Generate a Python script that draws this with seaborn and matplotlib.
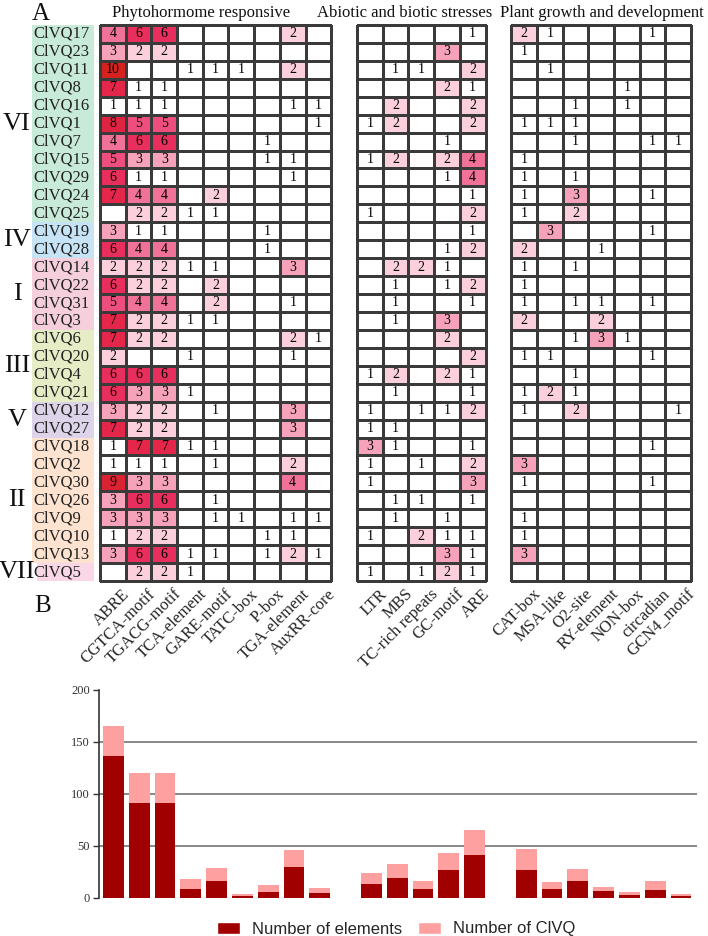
import numpy as np
import pandas as pd
import matplotlib
matplotlib.use("Agg")
import matplotlib.pyplot as plt
import seaborn as sns
from matplotlib.colors import ListedColormap
from matplotlib.patches import Rectangle, Patch
from matplotlib.transforms import ScaledTranslation

# ---------------- data ----------------
genes = ["ClVQ17", "ClVQ23", "ClVQ11", "ClVQ8", "ClVQ16", "ClVQ1", "ClVQ7", "ClVQ15",
         "ClVQ29", "ClVQ24", "ClVQ25", "ClVQ19", "ClVQ28", "ClVQ14", "ClVQ22", "ClVQ31",
         "ClVQ3", "ClVQ6", "ClVQ20", "ClVQ4", "ClVQ21", "ClVQ12", "ClVQ27", "ClVQ18",
         "ClVQ2", "ClVQ30", "ClVQ26", "ClVQ9", "ClVQ10", "ClVQ13", "ClVQ5"]
group_names = ["VI", "IV", "I", "III", "V", "II", "VII"]
group_sizes = [11, 2, 4, 4, 2, 7, 1]
group_colors = ["#c8ebd9", "#c6e4f5", "#f5cfdc", "#e5ecc6", "#ddd4ea", "#fde3d0", "#f9d7e7"]

phyto_names = ["ABRE", "CGTCA-motif", "TGACG-motif", "TCA-element", "GARE-motif",
               "TATC-box", "P-box", "TGA-element", "AuxRR-core"]
abiotic_names = ["LTR", "MBS", "TC-rich repeats", "GC-motif", "ARE"]
growth_names = ["CAT-box", "MSA-like", "O2-site", "RY-element", "NON-box", "circadian", "GCN4_motif"]

category_titles = ["Phytohormome responsive", "Abiotic and biotic stresses",
                   "Plant growth and development"]

phyto_counts = [
    [4, 6, 6, 0, 0, 0, 0, 2, 0], [3, 2, 2, 0, 0, 0, 0, 0, 0], [10, 0, 0, 1, 1, 1, 0, 2, 0],
    [7, 1, 1, 0, 0, 0, 0, 0, 0], [1, 1, 1, 0, 0, 0, 0, 1, 1], [8, 5, 5, 0, 0, 0, 0, 0, 1],
    [4, 6, 6, 0, 0, 0, 1, 0, 0], [5, 3, 3, 0, 0, 0, 1, 1, 0], [6, 1, 1, 0, 0, 0, 0, 1, 0],
    [7, 4, 4, 0, 2, 0, 0, 0, 0], [0, 2, 2, 1, 1, 0, 0, 0, 0], [3, 1, 1, 0, 0, 0, 1, 0, 0],
    [6, 4, 4, 0, 0, 0, 1, 0, 0], [2, 2, 2, 1, 1, 0, 0, 3, 0], [6, 2, 2, 0, 2, 0, 0, 0, 0],
    [5, 4, 4, 0, 2, 0, 0, 1, 0], [7, 2, 2, 1, 1, 0, 0, 0, 0], [7, 2, 2, 0, 0, 0, 0, 2, 1],
    [2, 0, 0, 1, 0, 0, 0, 1, 0], [6, 6, 6, 0, 0, 0, 0, 0, 0], [6, 3, 3, 1, 0, 0, 0, 0, 0],
    [3, 2, 2, 0, 1, 0, 0, 3, 0], [7, 2, 2, 0, 0, 0, 0, 3, 0], [1, 7, 7, 1, 1, 0, 0, 0, 0],
    [1, 1, 1, 0, 1, 0, 0, 2, 0], [9, 3, 3, 0, 0, 0, 0, 4, 0], [3, 6, 6, 0, 1, 0, 0, 0, 0],
    [3, 3, 3, 0, 1, 1, 0, 1, 1], [1, 2, 2, 0, 0, 0, 1, 1, 0], [3, 6, 6, 1, 1, 0, 1, 2, 1],
    [0, 2, 2, 1, 0, 0, 0, 0, 0],
]
abiotic_counts = [
    [0, 0, 0, 0, 1], [0, 0, 0, 3, 0], [0, 1, 1, 0, 2], [0, 0, 0, 2, 1], [0, 2, 0, 0, 2],
    [1, 2, 0, 0, 2], [0, 0, 0, 1, 0], [1, 2, 0, 2, 4], [0, 0, 0, 1, 4], [0, 0, 0, 0, 1],
    [1, 0, 0, 0, 2], [0, 0, 0, 0, 1], [0, 0, 0, 1, 2], [0, 2, 2, 1, 0], [0, 1, 0, 1, 2],
    [0, 1, 0, 0, 1], [0, 1, 0, 3, 0], [0, 0, 0, 2, 0], [0, 0, 0, 0, 2], [1, 2, 0, 2, 1],
    [0, 1, 0, 0, 1], [1, 0, 1, 1, 2], [1, 1, 0, 0, 0], [3, 1, 0, 0, 1], [1, 0, 1, 0, 2],
    [1, 0, 0, 0, 3], [0, 1, 1, 0, 1], [0, 1, 0, 1, 0], [1, 0, 2, 1, 1], [0, 0, 0, 3, 1],
    [1, 0, 1, 2, 1],
]
growth_counts = [
    [2, 1, 0, 0, 0, 1, 0], [1, 0, 0, 0, 0, 0, 0], [0, 1, 0, 0, 0, 0, 0], [0, 0, 0, 0, 1, 0, 0],
    [0, 0, 1, 0, 1, 0, 0], [1, 1, 1, 0, 0, 0, 0], [0, 0, 1, 0, 0, 1, 1], [1, 0, 0, 0, 0, 0, 0],
    [1, 0, 1, 0, 0, 0, 0], [1, 0, 3, 0, 0, 1, 0], [1, 0, 2, 0, 0, 0, 0], [0, 3, 0, 0, 0, 1, 0],
    [2, 0, 0, 1, 0, 0, 0], [1, 0, 1, 0, 0, 0, 0], [1, 0, 0, 0, 0, 0, 0], [1, 0, 1, 1, 0, 1, 0],
    [2, 0, 0, 2, 0, 0, 0], [0, 0, 1, 3, 1, 0, 0], [1, 1, 0, 0, 0, 1, 0], [0, 0, 1, 0, 0, 0, 0],
    [1, 2, 1, 0, 0, 0, 0], [1, 0, 2, 0, 0, 0, 1], [0, 0, 0, 0, 0, 0, 0], [0, 0, 0, 0, 0, 1, 0],
    [3, 0, 0, 0, 0, 0, 0], [1, 0, 0, 0, 0, 1, 0], [0, 0, 0, 0, 0, 0, 0], [1, 0, 0, 0, 0, 0, 0],
    [1, 0, 0, 0, 0, 0, 0], [3, 0, 0, 0, 0, 0, 0], [0, 0, 0, 0, 0, 0, 0],
]

# panel B
bar_elements = [136, 91, 91, 9, 16, 2, 6, 30, 5,
                13, 19, 9, 27, 41,
                27, 9, 16, 7, 3, 8, 2]
bar_clvq = [29, 29, 29, 9, 13, 2, 6, 16, 5,
            11, 14, 7, 16, 24,
            20, 6, 12, 4, 3, 8, 2]
y_ticks = [0, 50, 100, 150, 200]
grid_levels = [50, 100, 150]

# colour for each count value 0..10
level_colors = ["#ffffff", "#ffffff", "#fbd0dc", "#f6a2bb", "#f07298", "#ee4e7d",
                "#e82e5c", "#e4264b", "#df2342", "#da2232", "#d6221f"]

# ---------------- style ----------------
sns.set_theme(style="white")
plt.rcParams["font.family"] = ["Liberation Serif", "DejaVu Serif"]

W, H = 708, 936
fig = plt.figure(figsize=(W / 100, H / 100), dpi=100)
fig.patch.set_facecolor("white")

pitch = 25.7
x0 = 100.0
top_px, bot_px = 25.0, 581.0
rh = (bot_px - top_px) / len(genes)
cmap = ListedColormap(level_colors)

blocks = [(phyto_names, phyto_counts, 0), (abiotic_names, abiotic_counts, 10),
          (growth_names, growth_counts, 16)]

for bi, (names, counts, start) in enumerate(blocks):
    n = len(names)
    ax = fig.add_axes([(x0 + start * pitch) / W, 1 - bot_px / H, n * pitch / W,
                       (bot_px - top_px) / H])
    df = pd.DataFrame(counts, index=genes, columns=names)
    labels = np.where(df.values == 0, "", df.values.astype(str))
    sns.heatmap(df, ax=ax, cmap=cmap, vmin=-0.5, vmax=10.5, cbar=False,
                annot=labels, fmt="", linewidths=0.8, linecolor="#3a3a3a",
                xticklabels=True, yticklabels=True,
                annot_kws=dict(fontsize=10, family="Liberation Serif", color="black"))
    ax.collections[0].set_clip_on(False)
    for s in ax.spines.values():
        s.set_visible(False)
    ax.set_xlabel("")
    ax.set_ylabel("")
    ax.set_xticklabels(names, rotation=45, ha="right", va="top",
                       rotation_mode="anchor", fontsize=12)
    ax.tick_params(axis="x", length=0, pad=3.6)
    off = ScaledTranslation(0.09, 0, fig.dpi_scale_trans)
    for lab in ax.get_xticklabels():
        lab.set_transform(lab.get_transform() + off)
    if bi == 0:
        ax.set_yticklabels(genes, rotation=0, fontsize=12, color="#222222")
        ax.tick_params(axis="y", length=0, pad=48.2)
        for lab in ax.get_yticklabels():
            lab.set_horizontalalignment("left")
    else:
        ax.set_yticks([])

# group background boxes and group labels
row = 0
for gname, gsize, gcol in zip(group_names, group_sizes, group_colors):
    y0 = top_px + row * rh
    y1 = top_px + (row + gsize) * rh
    bx = 37 if gname == "VII" else 32
    fig.add_artist(Rectangle((bx / W, 1 - y1 / H), (94 - bx) / W, (y1 - y0) / H,
                             transform=fig.transFigure, facecolor=gcol,
                             edgecolor="none", zorder=-1))
    fig.text(17 / W, 1 - (y0 + y1) / 2 / H, gname, ha="center", va="center",
             fontsize=19, color="#111111")
    row += gsize

# category titles
for title, cx in zip(category_titles, [201, 405, 602]):
    fig.text(cx / W, 1 - 13 / H, title, ha="center", va="center", fontsize=12,
             color="#111111")

fig.text(32 / W, 1 - 20.5 / H, "A", ha="left", va="baseline", fontsize=18, color="#111111")
fig.text(34 / W, 1 - 612 / H, "B", ha="left", va="baseline", fontsize=18, color="#111111")

# ---------------- panel B ----------------
slots = phyto_names + [" "] + abiotic_names + ["  "] + growth_names
all_names = phyto_names + abiotic_names + growth_names
bar_df = pd.DataFrame({"element": all_names,
                       "elements": bar_elements,
                       "clvq": bar_clvq})
bar_df["stack_top"] = bar_df["elements"] + bar_df["clvq"]

axb = fig.add_axes([99 / W, 1 - 898 / H, (696.5 - 99) / W, (898 - 689.5) / H])
for lv in grid_levels:
    axb.axhline(lv, color="#7f7f7f", lw=1.3, zorder=0)
sns.barplot(data=bar_df, x="element", y="stack_top", order=slots, color="#ffa0a0",
            saturation=1, width=0.81, errorbar=None, ax=axb, linewidth=0, zorder=2)
sns.barplot(data=bar_df, x="element", y="elements", order=slots, color="#a00000",
            saturation=1, width=0.81, errorbar=None, ax=axb, linewidth=0, zorder=3)
axb.set_xlim(-0.56, 22.6)
axb.set_ylim(0, 200)
axb.set_yticks(y_ticks)
axb.set_yticklabels([str(v) for v in y_ticks], fontsize=9, color="#333333")
axb.tick_params(axis="y", length=4.5, width=1, color="#333333", pad=2, left=True)
axb.set_xticks([])
axb.set_xlabel("")
axb.set_ylabel("")
for side in ["top", "right", "bottom"]:
    axb.spines[side].set_visible(False)
axb.spines["left"].set_color("#333333")
axb.spines["left"].set_linewidth(1.2)
axb.set_facecolor("white")

handles = [Patch(facecolor="#a00000", label="Number of elements"),
           Patch(facecolor="#ffa0a0", label="Number of ClVQ")]
fig.legend(handles=handles, loc="center", bbox_to_anchor=(396 / W, 1 - 929 / H), ncol=2,
           frameon=False, prop={"family": "Liberation Sans", "size": 12},
           handlelength=1.38, handleheight=0.72, handletextpad=0.72, columnspacing=0.96,
           borderpad=0, borderaxespad=0)

fig.savefig("out.png", dpi=100, facecolor="white")
